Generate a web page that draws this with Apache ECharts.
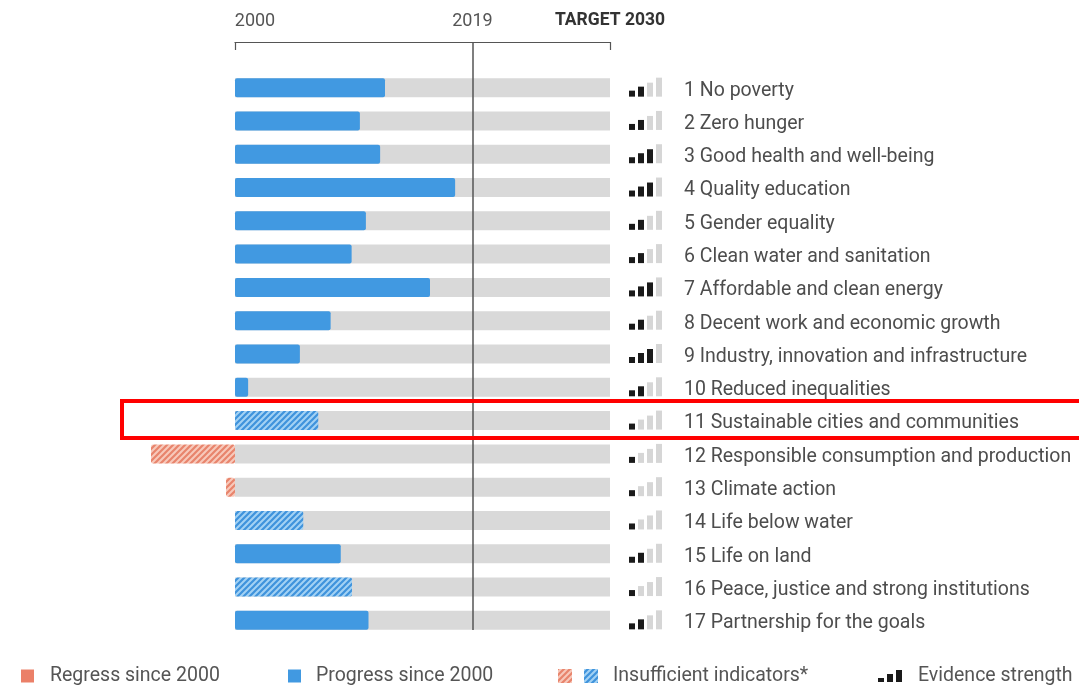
<!DOCTYPE html>
<html>
<head>
<meta charset="utf-8">
<script src="https://cdn.jsdelivr.net/npm/echarts@6/dist/echarts.min.js"></script>
<style>
  html, body { margin: 0; padding: 0; background: #fff; }
  #main { width: 1079px; height: 687px; }
</style>
</head>
<body>
<div id="main"></div>
<script>
// SDG progress 2000 -> 2030 (share of the way to target)
var goals = [
    '1 No poverty', '2 Zero hunger', '3 Good health and well-being', '4 Quality education',
    '5 Gender equality', '6 Clean water and sanitation', '7 Affordable and clean energy',
    '8 Decent work and economic growth', '9 Industry, innovation and infrastructure',
    '10 Reduced inequalities', '11 Sustainable cities and communities',
    '12 Responsible consumption and production', '13 Climate action', '14 Life below water',
    '15 Life on land', '16 Peace, justice and strong institutions', '17 Partnership for the goals'
];
var change = [40, 33.3, 38.7, 58.7, 34.9, 31.1, 52, 25.5, 17.3, 3.5, 22.2, -22.4, -2.4, 18.2, 28.2, 31.2, 35.6];
var insufficient = [0, 0, 0, 0, 0, 0, 0, 0, 0, 0, 1, 1, 1, 1, 0, 1, 0];
var evidence = [2, 2, 3, 3, 2, 2, 3, 2, 3, 2, 1, 1, 1, 1, 2, 1, 2];
var tickValues = [0, 63.33, 100];
var tickLabels = ['2000', '2019', 'TARGET 2030'];

(function() {
    var BLUE = '#4199e1';
    var RED = '#eb8068';

    // 斜线填充
    function hatch(bg, fg, size) {
        var c = document.createElement('canvas');
        c.width = size; c.height = size;
        var ctx = c.getContext('2d');
        ctx.fillStyle = bg;
        ctx.fillRect(0, 0, size, size);
        ctx.strokeStyle = fg;
        ctx.lineWidth = 2.2;
        ctx.beginPath();
        ctx.moveTo(-1, size + 1); ctx.lineTo(size + 1, -1);
        ctx.moveTo(-1, 1); ctx.lineTo(1, -1);
        ctx.moveTo(size - 1, size + 1); ctx.lineTo(size + 1, size - 1);
        ctx.stroke();
        return c;
    }
    var hatchBlue = hatch('#a3d2f4', '#3f93dc', 6);
    var hatchRed = hatch('#f7c9bb', '#e8846c', 6);

    // 图例图标: 两个斜线方块
    var ic = document.createElement('canvas');
    ic.width = 40; ic.height = 14;
    var ictx = ic.getContext('2d');
    ictx.fillStyle = ictx.createPattern(hatchRed, 'repeat');
    ictx.fillRect(0, 0, 14, 14);
    ictx.fillStyle = ictx.createPattern(hatchBlue, 'repeat');
    ictx.fillRect(26, 0, 14, 14);

    var track = goals.map(function() { return 100; });
    var regress = change.map(function(v, i) { return (!insufficient[i] && v < 0) ? v : null; });
    var progress = change.map(function(v, i) { return (!insufficient[i] && v >= 0) ? v : null; });
    var weak = change.map(function(v, i) {
        if (!insufficient[i]) return null;
        return {
            value: v,
            itemStyle: { color: { image: v < 0 ? hatchRed : hatchBlue, repeat: 'repeat' } }
        };
    });
    var evData = evidence.map(function(lv, i) { return [i, lv]; });

    var font = 'Roboto, "Noto Sans", sans-serif';
    var legendText = { color: '#555', fontSize: 19.5, fontFamily: font };

    function legendAt(name, left, icon, w, h, pad) {
        return {
            data: [name], left: left, top: 661, icon: icon,
            itemWidth: w, itemHeight: h, selectedMode: false,
            textStyle: Object.assign({ padding: [0, 0, 0, pad] }, legendText)
        };
    }

    var option = {
        animation: false,
        grid: [
            { left: 141.25, right: 469, top: 71, height: 566 },
            { left: 235, right: 469, top: 42, height: 588 }
        ],
        xAxis: [{
            gridIndex: 0, type: 'value', min: -25, max: 100, show: false
        }, {
            gridIndex: 1, type: 'value', min: 0, max: 100, position: 'top',
            axisLine: { show: true, onZero: false, lineStyle: { color: '#555', width: 1.2 } },
            axisTick: { show: true, inside: true, length: 8, customValues: [0, 100], lineStyle: { color: '#555', width: 1.2 } },
            splitLine: { show: false },
            axisLabel: {
                customValues: tickValues,
                margin: 12,
                formatter: function(v) {
                    var i = tickValues.indexOf(v);
                    if (i === 0) return '{first|' + tickLabels[i] + '}';
                    if (i === tickLabels.length - 1) return '{last|' + tickLabels[i] + '}';
                    return '{mid|' + tickLabels[i] + '}';
                },
                rich: {
                    first: { fontSize: 18, color: '#555', fontFamily: font, padding: [0, 0, 0, 40] },
                    mid: { fontSize: 18, color: '#555', fontFamily: font },
                    last: { fontSize: 17.5, color: '#333', fontWeight: 'bold', fontFamily: font }
                }
            }
        }],
        yAxis: [{
            gridIndex: 0, type: 'category', data: goals, inverse: true, position: 'right',
            axisLine: { show: false }, axisTick: { show: false }, splitLine: { show: false },
            axisLabel: {
                margin: 74, align: 'left',
                formatter: function(v) { return '{g|' + v + '}'; },
                rich: {
                    g: { fontSize: 19.5, color: '#4d4d4d', fontFamily: font, padding: [6, 0, 0, 0] }
                }
            }
        }, {
            gridIndex: 1, type: 'value', min: 0, max: 1, show: false
        }],
        legend: [
            legendAt('Regress since 2000', 16, 'rect', 13, 13, 11),
            legendAt('Progress since 2000', 283, 'rect', 13, 13, 10),
            legendAt('Insufficient indicators*', 553, 'image://' + ic.toDataURL(), 40, 14, 10),
            legendAt('Evidence strength', 873, 'path://M0,8h6v4h-6z M9,4h6v8h-6z M18,0h6v12h-6z', 24, 12, 11)
        ],
        series: [{
            name: 'track', type: 'bar', data: track, barWidth: 19, barGap: '-100%',
            itemStyle: { color: '#d9d9d9' }, silent: true, z: 1
        }, {
            name: 'Regress since 2000', type: 'bar', data: regress, barWidth: 19, barGap: '-100%',
            itemStyle: { color: RED, borderRadius: 2 }, z: 2
        }, {
            name: 'Progress since 2000', type: 'bar', data: progress, barWidth: 19, barGap: '-100%',
            itemStyle: { color: BLUE, borderRadius: 2 }, z: 2
        }, {
            name: 'Insufficient indicators*', type: 'bar', data: weak, barWidth: 19, barGap: '-100%',
            itemStyle: { color: '#7fbcec', borderRadius: 2 }, z: 2
        }, {
            name: 'Evidence strength', type: 'custom', data: evData,
            encode: { y: 0, x: 1 },
            itemStyle: { color: '#1a1a1a' },
            renderItem: function(params, api) {
                var idx = api.value(0), lv = api.value(1);
                var p = api.coord([100, idx]);
                var heights = [6, 10, 14, 19];
                var children = heights.map(function(h, k) {
                    return {
                        type: 'rect',
                        shape: { x: p[0] + 19 + k * 9, y: p[1] + 9 - h, width: 6, height: h },
                        style: { fill: k < lv ? '#1a1a1a' : '#d6d6d6' }
                    };
                });
                return { type: 'group', children: children };
            }
        }, {
            // 2019 参考线
            name: 'now', type: 'line', xAxisIndex: 1, yAxisIndex: 1, data: [],
            markLine: {
                silent: true, symbol: 'none', label: { show: false },
                lineStyle: { color: '#555', width: 1.5, type: 'solid' },
                data: [{ xAxis: tickValues[1] }]
            },
            z: 5
        }]
    };

    var myChart = echarts.init(document.getElementById('main'));
    myChart.setOption(option);

    // 红框标注第11项
    var cy = myChart.convertToPixel({ yAxisIndex: 0 }, 10);
    myChart.setOption({
        graphic: [{
            type: 'rect', z: 100,
            shape: { x: 122, y: cy - 19.5, width: 1000, height: 37 },
            style: { fill: 'none', stroke: '#ff0000', lineWidth: 4 }
        }]
    });
})();
</script>
</body>
</html>
